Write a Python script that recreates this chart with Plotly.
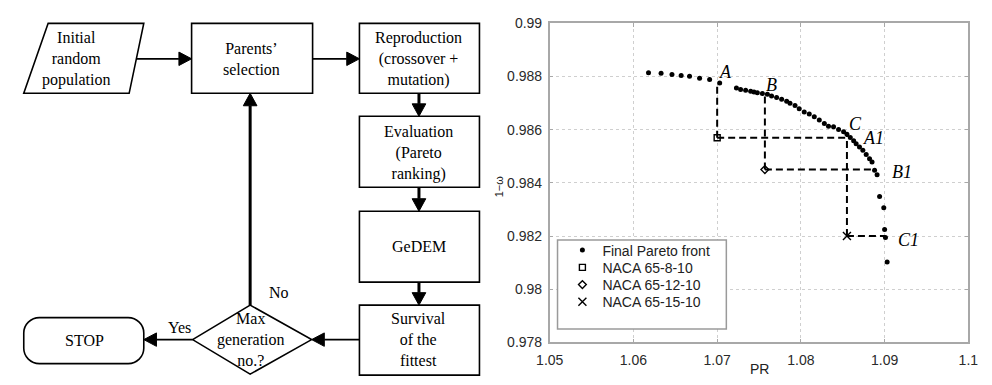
import plotly.graph_objects as go

W, H = 992, 385

# ---------------- data: final Pareto front (PR vs 1-omega) ----------------
pr_front = [1.0618, 1.0633, 1.0646, 1.0657, 1.0667, 1.0679, 1.0691, 1.0703,
            1.0723, 1.0728, 1.0734, 1.0740, 1.0744, 1.0748, 1.0754, 1.0760,
            1.0765, 1.0771, 1.0777, 1.0783, 1.0787, 1.0793, 1.0798, 1.0804,
            1.0810, 1.0816, 1.0822, 1.0828, 1.0833, 1.0839, 1.0845, 1.0851,
            1.0855, 1.0859, 1.0863, 1.0866, 1.0870, 1.0874, 1.0878, 1.0882,
            1.0885, 1.0888, 1.0891,
            1.0894, 1.0899, 1.0900, 1.0901, 1.0903]
eff_front = [0.98814, 0.98812, 0.98808, 0.98804, 0.98801, 0.98794, 0.98789, 0.98776,
             0.98757, 0.98751, 0.98748, 0.98745, 0.98742, 0.98739, 0.98736, 0.98733,
             0.98727, 0.98721, 0.98715, 0.98707, 0.98700, 0.98691, 0.98679, 0.98667,
             0.98659, 0.98649, 0.98637, 0.98623, 0.98613, 0.98611, 0.98601, 0.98592,
             0.98583, 0.98571, 0.98559, 0.98547, 0.98535, 0.98523, 0.98507, 0.98491,
             0.98479, 0.98448, 0.98431,
             0.98349, 0.98307, 0.98225, 0.98195, 0.98103]

# baseline NACA 65 profiles
naca_names = ["NACA 65-8-10", "NACA 65-12-10", "NACA 65-15-10"]
naca_pr = [1.0700, 1.0757, 1.0855]
naca_eff = [0.9857, 0.9845, 0.9820]
naca_symbols = ["square-open", "diamond-open", "x-thin-open"]

# optimised designs: same PR as baseline (A, B, C) / same 1-omega (A1, B1, C1)
same_pr_labels = ["A", "B", "C"]
same_pr_eff = [0.98776, 0.98736, 0.98583]
same_eff_labels = ["A1", "B1", "C1"]
same_eff_pr = [1.0857, 1.0887, 1.0901]

x_ticks = [1.05, 1.06, 1.07, 1.08, 1.09, 1.10]
x_ticktext = ["1.05", "1.06", "1.07", "1.08", "1.09", "1.1"]
y_ticks = [0.978, 0.980, 0.982, 0.984, 0.986, 0.988, 0.990]
y_ticktext = ["0.978", "0.98", "0.982", "0.984", "0.986", "0.988", "0.99"]

SERIF = "Liberation Serif, Times New Roman, serif"
SANS = "Liberation Sans, Arial, sans-serif"


def px(x):
    return x / W


def py(y):
    return 1 - y / H


fig = go.Figure()

# dashed connectors from each baseline to its matching front designs
for p0, e0, e_front, p_front in zip(naca_pr, naca_eff, same_pr_eff, same_eff_pr):
    fig.add_trace(go.Scatter(x=[p0, p0], y=[e0, e_front], mode="lines",
                             line=dict(color="black", width=2, dash="7px,4px"),
                             showlegend=False, hoverinfo="skip"))
    fig.add_trace(go.Scatter(x=[p0, p_front], y=[e0, e0], mode="lines",
                             line=dict(color="black", width=2, dash="7px,4px"),
                             showlegend=False, hoverinfo="skip"))

# one single-entry legend per series so the rows can sit at fixed spacing
legend_rows = [253, 271, 289, 307]
legend_ids = ["legend", "legend2", "legend3", "legend4"]

fig.add_trace(go.Scatter(x=pr_front, y=eff_front, mode="markers",
                         name="Final Pareto front", legend=legend_ids[0],
                         marker=dict(symbol="circle", size=5, color="black")))
for name, p0, e0, sym, lid in zip(naca_names, naca_pr, naca_eff, naca_symbols,
                                  legend_ids[1:]):
    fig.add_trace(go.Scatter(x=[p0], y=[e0], mode="markers", name=name, legend=lid,
                             marker=dict(symbol=sym, size=6 if sym != "x-thin-open" else 8,
                                         color="black",
                                         line=dict(color="black", width=1.4))))

annotations = []
# point labels
pr_offsets = [(8, 11), (7, 9), (9, 10)]
for lab, p0, e0, (dx, dy) in zip(same_pr_labels, naca_pr, same_pr_eff, pr_offsets):
    annotations.append(dict(x=p0, y=e0, xref="x", yref="y", text=f"<i>{lab}</i>",
                            showarrow=False, xshift=dx, yshift=dy,
                            xanchor="center", yanchor="middle",
                            font=dict(family=SERIF, size=18, color="black")))
eff_offsets = [(25, 0), (28, -2), (23, -4)]
for lab, p0, e0, (dx, dy) in zip(same_eff_labels, same_eff_pr, naca_eff, eff_offsets):
    annotations.append(dict(x=p0, y=e0, xref="x", yref="y", text=f"<i>{lab}</i>",
                            showarrow=False, xshift=dx, yshift=dy,
                            xanchor="center", yanchor="middle",
                            font=dict(family=SERIF, size=18, color="black")))

# axis titles
annotations.append(dict(x=px(764), y=py(377), xref="paper", yref="paper",
                        text="PR", showarrow=False, xanchor="center", yanchor="middle",
                        font=dict(family=SANS, size=14, color="#222")))
annotations.append(dict(x=px(497), y=py(186), xref="paper", yref="paper",
                        text="1\u2212\u03c9", showarrow=False, textangle=-90,
                        xanchor="center", yanchor="middle",
                        font=dict(family=SANS, size=11, color="#222")))

shapes = []
# legend frame
shapes.append(dict(type="rect", xref="paper", yref="paper",
                   x0=px(557), x1=px(730), y0=py(335), y1=py(242),
                   line=dict(color="#9a9a9a", width=1.5), fillcolor="white",
                   layer="above"))

# ---------------- flowchart (pixel positions converted to paper units) ----------------
FL = dict(xref="paper", yref="paper")
BOX_LINE = dict(color="black", width=1.6)


def rect(x0, y0, x1, y1):
    shapes.append(dict(type="rect", x0=px(x0), y0=py(y0), x1=px(x1), y1=py(y1),
                       line=BOX_LINE, fillcolor="white", **FL))


def pt(x, y):
    return f"{px(x):.6f},{py(y):.6f}"


def poly(points):
    path = "M " + " L ".join(pt(x, y) for x, y in points) + " Z"
    shapes.append(dict(type="path", path=path, line=BOX_LINE,
                       fillcolor="white", **FL))


def arrow(x0, y0, x1, y1, w, hl=13, hw=7):
    if x0 == x1:
        d = 1 if y1 > y0 else -1
        base = y1 - d * hl
        shapes.append(dict(type="line", x0=px(x0), y0=py(y0), x1=px(x0), y1=py(base),
                           line=dict(color="black", width=w), **FL))
        tri = f"M {pt(x1 - hw, base)} L {pt(x1 + hw, base)} L {pt(x1, y1)} Z"
    else:
        d = 1 if x1 > x0 else -1
        base = x1 - d * hl
        shapes.append(dict(type="line", x0=px(x0), y0=py(y0), x1=px(base), y1=py(y0),
                           line=dict(color="black", width=w), **FL))
        tri = f"M {pt(base, y1 - hw)} L {pt(base, y1 + hw)} L {pt(x1, y1)} Z"
    shapes.append(dict(type="path", path=tri, fillcolor="black",
                       line=dict(color="black", width=1), **FL))


def text(x, y, s, size=16):
    annotations.append(dict(x=px(x), y=py(y), text=s, showarrow=False, xanchor="center",
                            yanchor="middle", align="center",
                            font=dict(family=SERIF, size=size, color="black"), **FL))


# nodes
poly([(35, 16), (133, 16), (118, 89), (10, 89)])
text(64, 53, "Initial<br>random<br>population")
rect(182, 16, 306, 89)
text(243, 53, "Parents\u2019<br>selection")
rect(354, 16, 477, 89)
text(415, 53, "Reproduction<br>(crossover +<br>mutation)")
rect(354, 113, 477, 187)
text(415, 151, "Evaluation<br>(Pareto<br>ranking)")
rect(354, 212, 477, 286)
text(415, 249, "GeDEM")
rect(354, 310, 477, 383)
text(415, 346, "Survival<br>of the<br>fittest")
poly([(183, 346), (242, 310), (305, 346), (242, 382)])
text(243, 346, "Max<br>generation<br>no.?")

# STOP terminator (stadium shape)
sx0, sx1, sy0, sy1, r = 10, 133, 323, 371, 16
k = 0.55 * r
stop_path = (f"M {pt(sx0 + r, sy0)} L {pt(sx1 - r, sy0)} "
             f"C {pt(sx1 - r + k, sy0)} {pt(sx1, sy0 + r - k)} {pt(sx1, sy0 + r)} "
             f"L {pt(sx1, sy1 - r)} "
             f"C {pt(sx1, sy1 - r + k)} {pt(sx1 - r + k, sy1)} {pt(sx1 - r, sy1)} "
             f"L {pt(sx0 + r, sy1)} "
             f"C {pt(sx0 + r - k, sy1)} {pt(sx0, sy1 - r + k)} {pt(sx0, sy1 - r)} "
             f"L {pt(sx0, sy0 + r)} "
             f"C {pt(sx0, sy0 + r - k)} {pt(sx0 + r - k, sy0)} {pt(sx0 + r, sy0)} Z")
shapes.append(dict(type="path", path=stop_path, line=BOX_LINE,
                   fillcolor="white", **FL))
text(72, 347, "STOP")

# connectors
arrow(125, 53, 182, 53, 1.7)
arrow(306, 53, 354, 53, 1.7)
arrow(415, 89, 415, 113, 3)
arrow(415, 187, 415, 212, 3)
arrow(415, 286, 415, 310, 3)
arrow(354, 346, 305, 346, 1.7)
arrow(242, 310, 242, 89, 3)
arrow(183, 346, 133, 346, 1.7)
text(272, 297, "No")
text(170, 333, "Yes")

axis_common = dict(showline=True, linecolor="#a8a8a8", linewidth=1.5, mirror="ticks",
                   ticks="inside", ticklen=4, tickcolor="#a8a8a8",
                   showgrid=True, gridcolor="#cfcfcf", griddash="dot", gridwidth=1,
                   zeroline=False,
                   tickfont=dict(family=SANS, size=14, color="#2a2a2a"))

legend_style = dict(xanchor="left", yanchor="middle", bgcolor="rgba(0,0,0,0)",
                    borderwidth=0, font=dict(family=SANS, size=14, color="#222"))
legends = {lid: dict(x=px(562), y=py(row), **legend_style)
           for lid, row in zip(legend_ids, legend_rows)}

fig.update_layout(
    width=W, height=H,
    margin=dict(l=0, r=0, t=0, b=0),
    paper_bgcolor="white", plot_bgcolor="white",
    xaxis=dict(domain=[px(549), px(978)], range=[1.05, 1.10], tickvals=x_ticks,
               ticktext=x_ticktext, ticklabelstandoff=4, **axis_common),
    yaxis=dict(domain=[py(349), py(16)], range=[0.978, 0.990], tickvals=y_ticks,
               ticktext=y_ticktext, ticklabelstandoff=3, **axis_common),
    showlegend=True,
    shapes=shapes,
    annotations=annotations,
    **legends,
)

fig.write_html("out.html")
